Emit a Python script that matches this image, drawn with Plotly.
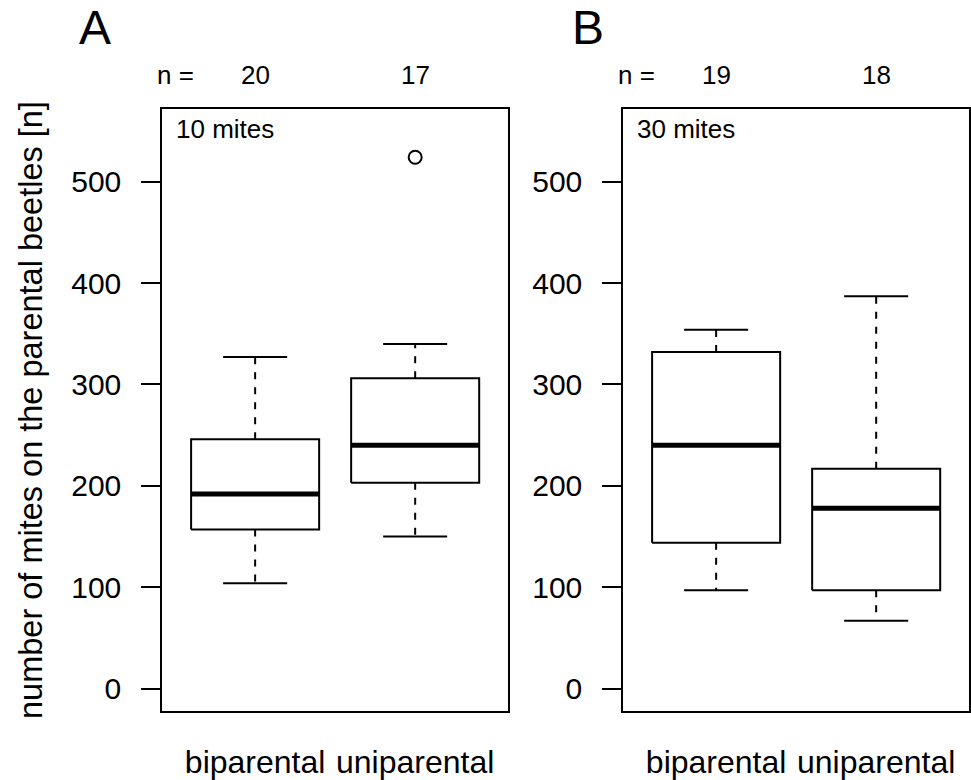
import plotly.graph_objects as go

# ---- data ----
categories = ["biparental", "uniparental"]
panel_labels = ["A", "B"]
panel_notes = ["10 mites", "30 mites"]

a_low = [104, 150]
a_q1 = [157, 203]
a_med = [192, 240]
a_q3 = [246, 306]
a_high = [327, 340]
a_n = [20, 17]
a_out_x = [2]
a_out_y = [524]

b_low = [97, 67]
b_q1 = [144, 97]
b_med = [240, 178]
b_q3 = [332, 217]
b_high = [354, 387]
b_n = [19, 18]
b_out_x = []
b_out_y = []

y_ticks = [0, 100, 200, 300, 400, 500]

FONT = "Liberation Sans, Arial, Helvetica, sans-serif"
W, H = 971, 780

fig = go.Figure()

BW = 0.4   # half box width
CW = 0.2   # half cap width


def add_panel(ax, low, q1, med, q3, high, out_x, out_y):
    xr = "x" if ax == 1 else "x2"
    yr = "y" if ax == 1 else "y2"
    for i in range(len(categories)):
        c = i + 1
        # box
        fig.add_trace(go.Scatter(
            x=[c - BW, c + BW, c + BW, c - BW, c - BW],
            y=[q1[i], q1[i], q3[i], q3[i], q1[i]],
            mode="lines", line=dict(color="black", width=2),
            xaxis=xr, yaxis=yr, hoverinfo="skip"))
        # whiskers (dashed)
        for a, b in ((q3[i], high[i]), (q1[i], low[i])):
            fig.add_trace(go.Scatter(
                x=[c, c], y=[a, b], mode="lines",
                line=dict(color="black", width=2, dash="7px,8px"),
                xaxis=xr, yaxis=yr, hoverinfo="skip"))
        # caps
        for v in (high[i], low[i]):
            fig.add_trace(go.Scatter(
                x=[c - CW, c + CW], y=[v, v], mode="lines",
                line=dict(color="black", width=2),
                xaxis=xr, yaxis=yr, hoverinfo="skip"))
        # median
        fig.add_trace(go.Scatter(
            x=[c - BW, c + BW], y=[med[i], med[i]], mode="lines",
            line=dict(color="black", width=5),
            xaxis=xr, yaxis=yr, hoverinfo="skip"))
    if out_x:
        fig.add_trace(go.Scatter(
            x=out_x, y=out_y, mode="markers",
            marker=dict(symbol="circle-open", size=13, color="black",
                        line=dict(width=2, color="black")),
            xaxis=xr, yaxis=yr, hoverinfo="skip"))


add_panel(1, a_low, a_q1, a_med, a_q3, a_high, a_out_x, a_out_y)
add_panel(2, b_low, b_q1, b_med, b_q3, b_high, b_out_x, b_out_y)

y_dom = [(H - 725) / H, (H - 110.7) / H]
xa_dom = [162.3 / W, 508 / W]
xb_dom = [623.3 / W, 969 / W]

xaxis_common = dict(
    range=[0.42, 2.58], showgrid=False, zeroline=False,
    showline=True, mirror=True, linecolor="black", linewidth=2,
    tickvals=[1, 2], ticktext=categories, ticks="",
    tickfont=dict(family=FONT, size=32, color="black"),
    ticklabelstandoff=22, fixedrange=True)
yaxis_common = dict(
    range=[-22, 572], domain=y_dom, showgrid=False, zeroline=False,
    showline=True, mirror=True, linecolor="black", linewidth=2,
    tickvals=y_ticks, ticktext=[str(v) for v in y_ticks],
    ticks="outside", ticklen=19, tickwidth=2, tickcolor="black",
    tickfont=dict(family=FONT, size=30, color="black"),
    ticklabelstandoff=14, fixedrange=True)

fig.update_layout(
    width=W, height=H, margin=dict(l=0, r=0, t=0, b=0),
    paper_bgcolor="white", plot_bgcolor="white", showlegend=False,
    xaxis=dict(domain=xa_dom, anchor="y", **xaxis_common),
    yaxis=dict(anchor="x", **yaxis_common),
    xaxis2=dict(domain=xb_dom, anchor="y2", **xaxis_common),
    yaxis2=dict(anchor="x2", **yaxis_common),
)

ann = []
# y-axis title
ann.append(dict(text="number of mites on the parental beetles [n]",
                xref="paper", yref="paper", x=31 / W, y=(H - 418) / H,
                xanchor="center", yanchor="middle", textangle=-90,
                showarrow=False, font=dict(family=FONT, size=32.5, color="black")))
# panel letters
for lab, px in zip(panel_labels, [95, 588]):
    ann.append(dict(text=lab, xref="paper", yref="paper", x=px / W, y=(H - 28) / H,
                    xanchor="center", yanchor="middle", showarrow=False,
                    font=dict(family=FONT, size=48, color="black")))
# n = labels
for px in [175, 636]:
    ann.append(dict(text="n =", xref="paper", yref="paper", x=px / W, y=(H - 76) / H,
                    xanchor="center", yanchor="middle", showarrow=False,
                    font=dict(family=FONT, size=26, color="black")))
for xr, ns in (("x", a_n), ("x2", b_n)):
    for i, n in enumerate(ns):
        ann.append(dict(text=str(n), xref=xr, yref="paper", x=i + 1, y=(H - 76) / H,
                        xanchor="center", yanchor="middle", showarrow=False,
                        font=dict(family=FONT, size=26, color="black")))
# notes inside panels
for note, px in zip(panel_notes, [174, 635]):
    ann.append(dict(text=note, xref="paper", yref="paper", x=px / W, y=(H - 132) / H,
                    xanchor="left", yanchor="middle", showarrow=False,
                    font=dict(family=FONT, size=26, color="black")))

fig.update_layout(annotations=ann)

fig.write_html("out.html")
